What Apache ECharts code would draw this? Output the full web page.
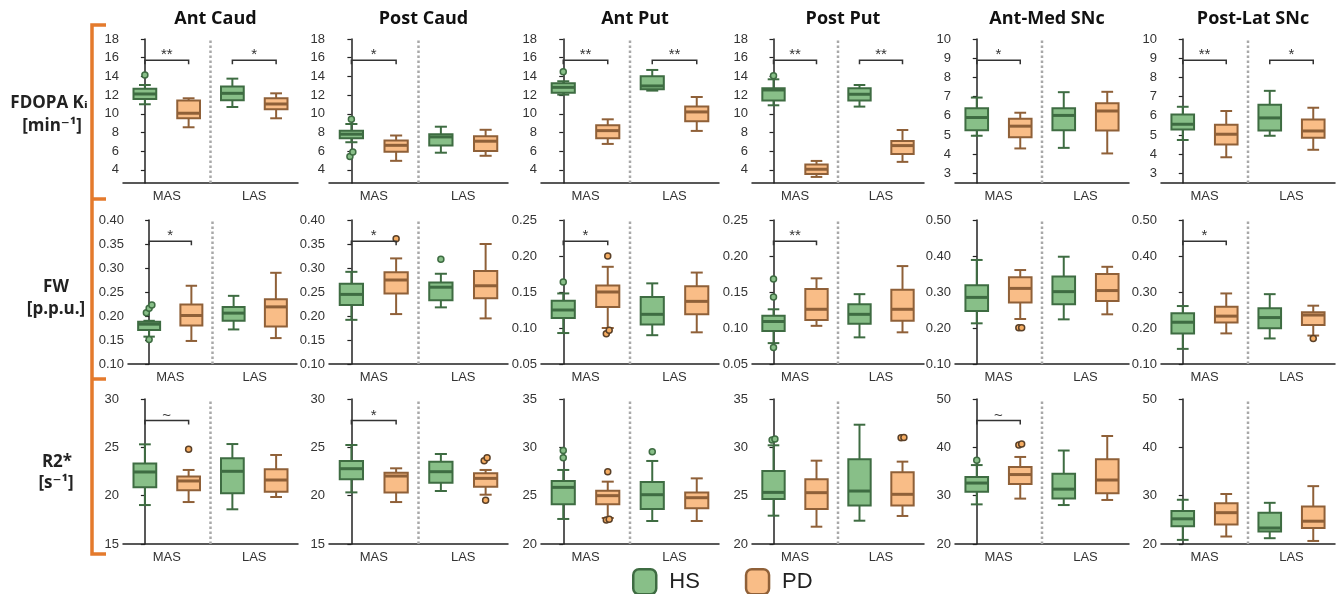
<!DOCTYPE html>
<html>
<head>
<meta charset="utf-8">
<script src="https://cdn.jsdelivr.net/npm/echarts@6/dist/echarts.min.js"></script>
<style>
  html, body { margin: 0; padding: 0; background: #fff; }
  #chart { width: 1340px; height: 594px; }
</style>
</head>
<body>
<div id="chart"></div>
<script>
const regions = ['Ant Caud', 'Post Caud', 'Ant Put', 'Post Put', 'Ant-Med SNc', 'Post-Lat SNc'];
const groups = ['MAS', 'LAS'];

// box stats: [min, q1, median, q3, max], per region: [MAS, LAS]
const kiHS = [
  [[11.02, 11.59, 12.12, 12.69, 13.08], [10.73, 11.44, 12.19, 12.91, 13.76]],
  [[6.96, 7.39, 7.82, 8.18, 8.91], [5.84, 6.60, 7.53, 7.82, 8.62]],
  [[12.05, 12.26, 12.83, 13.26, 13.48], [12.48, 12.62, 12.98, 14.01, 14.69]],
  [[10.91, 11.41, 12.55, 12.73, 13.69], [10.77, 11.41, 12.09, 12.73, 13.08]],
  [[4.96, 5.25, 5.91, 6.39, 6.95], [4.33, 5.25, 6.02, 6.39, 7.23]],
  [[4.74, 5.28, 5.56, 6.07, 6.47], [4.96, 5.23, 5.89, 6.58, 7.30]]
];
const kiPD = [
  [[8.56, 9.52, 10.06, 11.41, 11.66], [9.52, 10.48, 11.05, 11.66, 12.19]],
  [[4.97, 5.95, 6.63, 7.14, 7.68], [5.51, 6.02, 7.07, 7.61, 8.29]],
  [[6.78, 7.38, 8.20, 8.77, 9.41], [8.17, 9.20, 10.20, 10.77, 11.80]],
  [[3.25, 3.57, 4.07, 4.57, 4.96], [4.86, 5.71, 6.60, 7.10, 8.27]],
  [[4.30, 4.88, 5.46, 5.84, 6.16], [4.04, 5.23, 6.25, 6.65, 7.25]],
  [[3.84, 4.51, 5.04, 5.53, 6.25], [4.23, 4.86, 5.21, 5.81, 6.42]]
];
const kiOutHS = [[[14.15], []], [[9.42, 5.91, 5.44], []], [[14.51], []], [[14.08], []], [[], []], [[], []]];
const kiOutPD = [[[], []], [[], []], [[], []], [[], []], [[], []], [[], []]];
const kiSig = [['**', '*'], ['*', ''], ['**', '**'], ['**', '**'], ['*', ''], ['**', '*']];
const kiAxis = [[2.6, 18, 2], [2.6, 18, 2], [2.6, 18, 2], [2.6, 18, 2], [2.5, 10, 1], [2.5, 10, 1]];

const fwHS = [
  [[0.157, 0.171, 0.183, 0.188, 0.190], [0.172, 0.190, 0.206, 0.219, 0.242]],
  [[0.192, 0.223, 0.245, 0.267, 0.292], [0.218, 0.233, 0.260, 0.270, 0.288]],
  [[0.093, 0.114, 0.125, 0.138, 0.148], [0.090, 0.105, 0.119, 0.143, 0.162]],
  [[0.079, 0.096, 0.109, 0.117, 0.126], [0.087, 0.106, 0.119, 0.133, 0.147]],
  [[0.213, 0.247, 0.285, 0.319, 0.389], [0.224, 0.266, 0.301, 0.343, 0.398]],
  [[0.142, 0.185, 0.216, 0.241, 0.261], [0.171, 0.199, 0.229, 0.255, 0.294]]
];
const fwPD = [
  [[0.148, 0.180, 0.201, 0.224, 0.263], [0.154, 0.178, 0.219, 0.235, 0.290]],
  [[0.204, 0.247, 0.275, 0.291, 0.320], [0.195, 0.237, 0.263, 0.294, 0.350]],
  [[0.100, 0.129, 0.150, 0.159, 0.185], [0.094, 0.119, 0.137, 0.158, 0.177]],
  [[0.103, 0.111, 0.126, 0.154, 0.169], [0.094, 0.110, 0.126, 0.153, 0.186]],
  [[0.225, 0.271, 0.310, 0.341, 0.361], [0.238, 0.275, 0.304, 0.350, 0.370]],
  [[0.185, 0.215, 0.233, 0.259, 0.296], [0.179, 0.208, 0.236, 0.244, 0.262]]
];
const fwOutHS = [[[0.207, 0.216, 0.223, 0.151], []], [[], [0.318]], [[0.164], []], [[0.168, 0.143, 0.073], []], [[], []], [[], []]];
const fwOutPD = [[[], []], [[0.361], []], [[0.200, 0.097, 0.092], []], [[], []], [[0.201, 0.201], []], [[], [0.171]]];
const fwSig = [['*', ''], ['*', ''], ['*', ''], ['**', ''], ['', ''], ['*', '']];
const fwAxis = [[0.10, 0.40, 0.05], [0.10, 0.40, 0.05], [0.05, 0.25, 0.05], [0.05, 0.25, 0.05], [0.10, 0.50, 0.10], [0.10, 0.50, 0.10]];

const r2HS = [
  [[19.03, 20.86, 22.45, 23.34, 25.31], [18.59, 20.24, 22.52, 23.86, 25.34]],
  [[20.34, 21.69, 22.79, 23.59, 25.24], [20.48, 21.34, 22.48, 23.52, 24.31]],
  [[22.59, 24.10, 25.86, 26.52, 27.66], [22.38, 23.62, 25.10, 26.41, 28.59]],
  [[22.93, 24.66, 25.34, 27.55, 30.21], [22.41, 23.97, 25.48, 28.76, 32.34]],
  [[28.20, 30.79, 32.61, 33.88, 36.33], [28.06, 29.39, 31.35, 34.51, 39.34]],
  [[20.85, 23.66, 25.21, 26.83, 29.15], [21.20, 22.61, 23.31, 26.48, 28.52]]
];
const r2PD = [
  [[19.34, 20.55, 21.52, 21.97, 22.66], [19.86, 20.41, 21.62, 22.72, 24.21]],
  [[19.34, 20.34, 22.03, 22.38, 22.83], [20.10, 20.93, 21.79, 22.31, 22.66]],
  [[22.69, 24.10, 25.00, 25.52, 26.45], [22.38, 23.69, 24.79, 25.34, 26.79]],
  [[21.79, 23.62, 25.31, 26.69, 28.62], [22.90, 23.97, 25.14, 27.41, 28.52]],
  [[29.39, 32.40, 34.37, 35.91, 38.01], [29.11, 30.51, 33.24, 37.52, 42.35]],
  [[21.55, 24.01, 26.48, 28.45, 30.35], [20.63, 23.31, 24.72, 27.75, 31.97]]
];
const r2OutHS = [[[], []], [[], []], [[29.66, 28.93], [29.55]], [[30.76, 30.86], []], [[37.31], []], [[], []]];
const r2OutPD = [[[24.79], []], [[], [23.93, 23.62, 19.52]], [[27.48, 22.55, 22.48], []], [[], [31.03, 31.0]], [[40.67, 40.46], []], [[], []]];
const r2Sig = [['~', ''], ['*', ''], ['', ''], ['', ''], ['~', ''], ['', '']];
const r2Axis = [[15, 30, 5], [15, 30, 5], [20, 35, 5], [20, 35, 5], [20, 50, 10], [20, 50, 10]];

const HS_FILL = '#88bf88', HS_LINE = '#3e6c42';
const PD_FILL = '#f9bd87', PD_LINE = '#8f6038';
const FONT = "'Liberation Sans', Arial, sans-serif";
const BOLD = "'Open Sans', 'DejaVu Sans', sans-serif";

const rows = [
  { hs: kiHS, pd: kiPD, outHS: kiOutHS, outPD: kiOutPD, sig: kiSig, axis: kiAxis, top: 39, height: 144, fmt: v => String(v) },
  { hs: fwHS, pd: fwPD, outHS: fwOutHS, outPD: fwOutPD, sig: fwSig, axis: fwAxis, top: 220, height: 144, fmt: v => v.toFixed(2) },
  { hs: r2HS, pd: r2PD, outHS: r2OutHS, outPD: r2OutPD, sig: r2Sig, axis: r2Axis, top: 399, height: 145, fmt: v => String(v) }
];
const colLeft = [123, 329, 541, 752, 955, 1161];
const colWidth = [175, 179, 178, 172, 174, 174];

function boxRenderer(fill, line) {
  return function (params, api) {
    const x = api.value(0);
    const p = [1, 2, 3, 4, 5].map(i => api.coord([x, api.value(i)]));
    const cx = p[0][0];
    const unit = api.size([1, 0])[0];
    const bw = unit * 0.52, cw = unit * 0.27;
    const ls = { stroke: line, lineWidth: 2 };
    return {
      type: 'group',
      children: [
        { type: 'line', shape: { x1: cx, y1: p[4][1], x2: cx, y2: p[3][1] }, style: ls },
        { type: 'line', shape: { x1: cx, y1: p[0][1], x2: cx, y2: p[1][1] }, style: ls },
        { type: 'line', shape: { x1: cx - cw / 2, y1: p[4][1], x2: cx + cw / 2, y2: p[4][1] }, style: ls },
        { type: 'line', shape: { x1: cx - cw / 2, y1: p[0][1], x2: cx + cw / 2, y2: p[0][1] }, style: ls },
        { type: 'rect', shape: { x: cx - bw / 2, y: p[3][1], width: bw, height: p[1][1] - p[3][1] },
          style: { fill: fill, stroke: line, lineWidth: 2 } },
        { type: 'line', shape: { x1: cx - bw / 2, y1: p[2][1], x2: cx + bw / 2, y2: p[2][1] },
          style: { stroke: line, lineWidth: 3 } }
      ]
    };
  };
}

function bracketRenderer(labels) {
  return function (params, api) {
    const a = api.coord([api.value(0), api.value(2)]);
    const b = api.coord([api.value(1), api.value(2)]);
    const drop = 4;
    return {
      type: 'group',
      children: [
        { type: 'polyline', shape: { points: [[a[0], a[1] + drop], [a[0], a[1]], [b[0], b[1]], [b[0], b[1] + drop]] },
          style: { stroke: '#333', lineWidth: 1.5, fill: null } },
        { type: 'text', x: (a[0] + b[0]) / 2, y: a[1] - 5,
          style: { text: labels[params.dataIndex], align: 'center', verticalAlign: 'middle',
                   font: '15px ' + FONT, fill: '#333' } }
      ]
    };
  };
}

// outliers that sit close together are spread sideways a little
function outlierPoints(lists, base, span) {
  const pts = [];
  lists.forEach((vals, gi) => {
    const xc = base + gi * 2;
    const sorted = vals.slice().sort((a, b) => a - b);
    let cluster = [];
    const flush = () => {
      cluster.forEach((v, k) => pts.push([xc + (k - (cluster.length - 1) / 2) * 0.065, v]));
      cluster = [];
    };
    sorted.forEach(v => {
      if (cluster.length && v - cluster[cluster.length - 1] > span * 0.035) flush();
      cluster.push(v);
    });
    flush();
  });
  return pts;
}

const grid = [], xAxis = [], yAxis = [], series = [], title = [];

rows.forEach((row, r) => {
  regions.forEach((name, c) => {
    const g = r * 6 + c;
    let left = colLeft[c], width = colWidth[c];
    if (r === 1 && c === 0) { left = 128; width = 169; }
    grid.push({ left: left, top: row.top, width: width, height: row.height });

    const [ymin, ymax, step] = row.axis[c];
    const onStep = Math.abs(ymin / step - Math.round(ymin / step)) < 1e-6;

    xAxis.push({
      gridIndex: g, type: 'category', data: groups, position: 'bottom',
      axisLine: { lineStyle: { color: '#222', width: 1.5 } },
      axisTick: { show: false },
      axisLabel: { fontSize: 13, color: '#333', fontFamily: FONT, margin: 7 },
      splitLine: { show: false }
    });
    xAxis.push({ gridIndex: g, type: 'value', min: -0.5, max: 3.5, show: false });

    const ya = {
      gridIndex: g, type: 'value', min: ymin, max: ymax,
      axisLine: { show: true, lineStyle: { color: '#222', width: 1.5 } },
      axisTick: { show: true, length: 4, lineStyle: { color: '#222', width: 1.2 } },
      splitLine: { show: false },
      axisLabel: { fontSize: 13, color: '#333', fontFamily: FONT, margin: 4,
                   showMinLabel: onStep, showMaxLabel: true, formatter: row.fmt }
    };
    if (onStep) ya.interval = step;
    else ya.splitNumber = Math.round((ymax - ymin) / step);
    yAxis.push(ya);

    const xi = 2 * g + 1;
    const span = ymax - ymin;

    series.push({
      type: 'line', xAxisIndex: xi, yAxisIndex: g, silent: true, symbol: 'none', z: 1,
      data: [[1.5, ymin], [1.5, ymax]],
      lineStyle: { color: '#a8a8a8', width: 2.5, type: [2.5, 2.5] }
    });
    series.push({
      name: 'HS', type: 'custom', xAxisIndex: xi, yAxisIndex: g, z: 3,
      itemStyle: { color: HS_FILL, borderColor: HS_LINE },
      renderItem: boxRenderer(HS_FILL, HS_LINE),
      data: row.hs[c].map((s, k) => [k * 2].concat(s))
    });
    series.push({
      name: 'PD', type: 'custom', xAxisIndex: xi, yAxisIndex: g, z: 3,
      itemStyle: { color: PD_FILL, borderColor: PD_LINE },
      renderItem: boxRenderer(PD_FILL, PD_LINE),
      data: row.pd[c].map((s, k) => [k * 2 + 1].concat(s))
    });
    series.push({
      type: 'scatter', xAxisIndex: xi, yAxisIndex: g, z: 4, symbolSize: 6, silent: true,
      itemStyle: { color: HS_FILL, borderColor: HS_LINE, borderWidth: 1.5, opacity: 1 },
      data: outlierPoints(row.outHS[c], 0, span)
    });
    series.push({
      type: 'scatter', xAxisIndex: xi, yAxisIndex: g, z: 4, symbolSize: 6, silent: true,
      itemStyle: { color: '#f6ad62', borderColor: '#5a4028', borderWidth: 1.5, opacity: 1 },
      data: outlierPoints(row.outPD[c], 1, span)
    });

    const level = ymax - span * 0.148;
    const labels = [], bdata = [];
    row.sig[c].forEach((s, k) => {
      if (s) { labels.push(s); bdata.push([k * 2, k * 2 + 1, level]); }
    });
    if (bdata.length) {
      series.push({
        type: 'custom', xAxisIndex: xi, yAxisIndex: g, z: 5, silent: true,
        renderItem: bracketRenderer(labels), data: bdata
      });
    }

    if (r === 0) {
      title.push({
        text: name, left: left + width / 2, top: 5, textAlign: 'center',
        textStyle: { fontFamily: BOLD, fontWeight: 'bold', fontSize: 18, color: '#111' }
      });
    }
  });
});

const rowLabel = (text, x, y) => ({
  type: 'text', x: x, y: y,
  style: { text: text, align: 'center', verticalAlign: 'middle',
           font: 'bold 17px ' + BOLD, fill: '#222' }
});
const orange = { stroke: '#e47a2c', lineWidth: 3.5 };

const chart = echarts.init(document.getElementById('chart'));
chart.setOption({
  animation: false,
  backgroundColor: '#fff',
  title: title,
  grid: grid,
  xAxis: xAxis,
  yAxis: yAxis,
  series: series,
  legend: {
    data: [
      { name: 'HS', itemStyle: { color: HS_FILL, borderColor: HS_LINE, borderWidth: 2.5 } },
      { name: 'PD', itemStyle: { color: PD_FILL, borderColor: PD_LINE, borderWidth: 2.5 } }
    ],
    selectedMode: false, icon: 'roundRect', left: 632, top: 568, padding: 0,
    itemWidth: 23, itemHeight: 25, itemGap: 45,
    textStyle: { fontSize: 22, fontFamily: FONT, color: '#222', padding: [0, 0, 0, 8] }
  },
  graphic: [
    { type: 'polyline', shape: { points: [[106, 25], [92, 25], [92, 554], [106, 554]] }, style: Object.assign({ fill: null }, orange) },
    { type: 'line', shape: { x1: 92, y1: 199, x2: 106, y2: 199 }, style: orange },
    { type: 'line', shape: { x1: 92, y1: 379, x2: 106, y2: 379 }, style: orange },
    rowLabel('FDOPA Kᵢ', 49, 103),
    rowLabel('[min⁻¹]', 52, 126),
    rowLabel('FW', 56, 287),
    rowLabel('[p.p.u.]', 56, 309),
    rowLabel('R2*', 57, 462),
    rowLabel('[s⁻¹]', 56, 483)
  ]
});
</script>
</body>
</html>
